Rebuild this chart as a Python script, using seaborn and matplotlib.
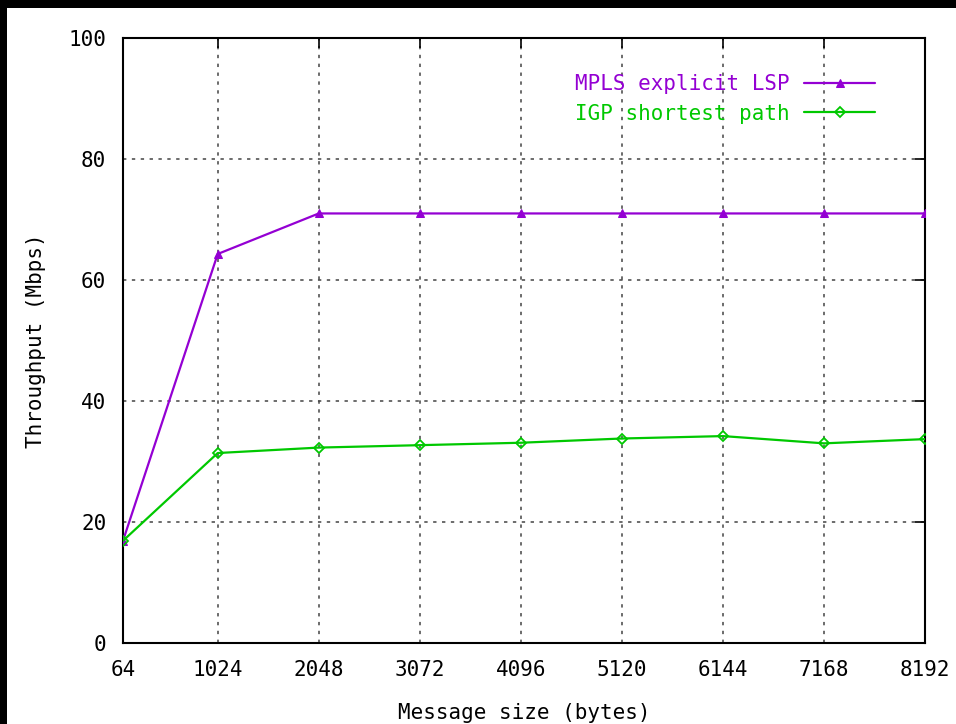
import pandas as pd
import matplotlib
matplotlib.use("Agg")
import matplotlib.pyplot as plt
import seaborn as sns
from matplotlib.patches import Rectangle

# Dati
message_size = [64, 1024, 2048, 3072, 4096, 5120, 6144, 7168, 8192]
mpls_throughput = [16.9, 64.3, 71.0, 71.0, 71.0, 71.0, 71.0, 71.0, 71.0]
igp_throughput = [16.9, 31.4, 32.3, 32.7, 33.1, 33.8, 34.2, 33.0, 33.7]
series_names = ["MPLS explicit LSP", "IGP shortest path"]
y_ticks = [0, 20, 40, 60, 80, 100]

PURPLE = "#9400d3"
GREEN = "#00c800"


def main():
    sns.set_theme(style="white")
    plt.rcParams["font.family"] = ["DejaVu Sans Mono", "DejaVu Sans"]

    df = pd.DataFrame({
        "size": message_size * 2,
        "throughput": mpls_throughput + igp_throughput,
        "serie": [series_names[0]] * len(message_size) + [series_names[1]] * len(message_size),
    })

    fig = plt.figure(figsize=(9.56, 7.24), dpi=100, facecolor="black")
    # riquadro bianco (bordo nero in alto e a sinistra)
    fig.patches.append(Rectangle((7 / 956, 0), 1 - 7 / 956, 1 - 8 / 724,
                                 transform=fig.transFigure, facecolor="white",
                                 edgecolor="none", zorder=-10))
    ax = fig.add_axes([123 / 956, 1 - 643 / 724, 802 / 956, 605 / 724])

    sns.lineplot(data=df[df["serie"] == series_names[0]], x="size", y="throughput",
                 ax=ax, color=PURPLE, lw=1.6, marker="^", markersize=6,
                 markeredgecolor=PURPLE, label=series_names[0], zorder=3)
    sns.lineplot(data=df[df["serie"] == series_names[1]], x="size", y="throughput",
                 ax=ax, color=GREEN, lw=1.6, marker="D", markersize=5,
                 markerfacecolor="none", markeredgecolor=GREEN, markeredgewidth=1.3,
                 label=series_names[1], zorder=3)

    ax.set_xlim(message_size[0], message_size[-1])
    ax.set_ylim(0, 100)
    ax.set_xticks(message_size)
    ax.set_yticks(y_ticks)
    ax.tick_params(direction="in", length=7, width=1.2, top=True, right=True,
                   labelsize=15, pad=12, colors="black")
    for spine in ax.spines.values():
        spine.set_color("black")
        spine.set_linewidth(1.5)

    ax.grid(True, color="#444444", linestyle=(0, (2.2, 3.6)), linewidth=1.1)
    ax.set_axisbelow(True)

    ax.set_xlabel("Message size (bytes)", fontsize=15, labelpad=17, color="black")
    ax.set_ylabel("Throughput (Mbps)", fontsize=15, labelpad=16, color="black")

    ax.legend(loc="upper right", bbox_to_anchor=(0.938, 0.94), frameon=False,
              markerfirst=False, fontsize=15, handlelength=3.4,
              handletextpad=0.7, borderpad=0, borderaxespad=0,
              labelspacing=0.45, labelcolor="linecolor")

    fig.savefig("out.png", dpi=100, facecolor=fig.get_facecolor())
    plt.close(fig)


if __name__ == "__main__":
    main()
